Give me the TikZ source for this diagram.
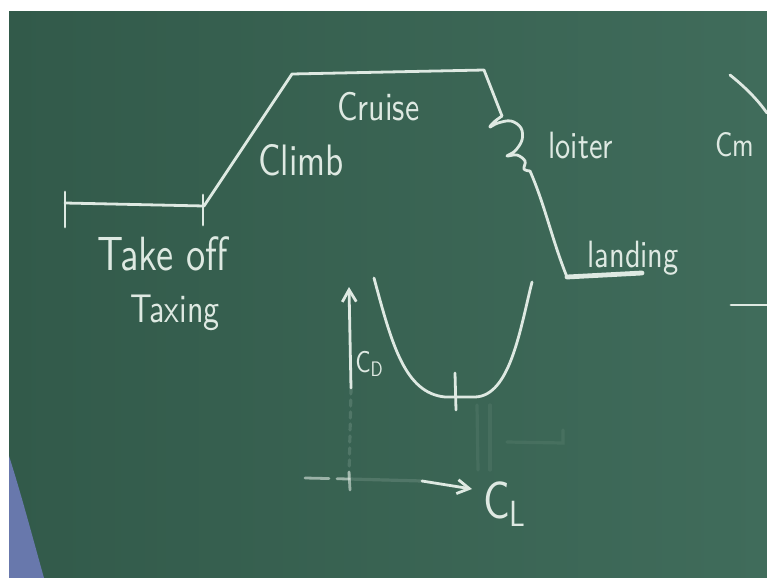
\documentclass[tikz,border=0pt]{standalone}
\usepackage{fontspec}
\newfontfamily\chalkfont{lmsans10-regular.otf}[FakeStretch=0.8]
\usetikzlibrary{arrows.meta}
\definecolor{board}{RGB}{64,108,91}
\definecolor{boardleft}{RGB}{50,90,74}
\definecolor{chalk}{RGB}{222,233,226}
\definecolor{sleeve}{RGB}{104,120,172}
\begin{document}
\begin{tikzpicture}[x=0.5pt,y=-0.5pt,
  chalkline/.style={draw=chalk,line width=1.4pt,line cap=round,line join=round},
  chalkfaint/.style={draw=chalk,line width=1.6pt,line cap=round,opacity=0.07},
  chalkarrow/.style={chalkline,-{Straight Barb[length=6pt,width=7pt]}},
  chalktext/.style={text=chalk,anchor=base west,inner sep=0pt},
  label size/.style={font=\chalkfont\fontsize{#1}{#1}\selectfont}]
\useasboundingbox (0,0) rectangle (767,578);
\fill[white] (0,0) rectangle (767,578);
\shade[left color=boardleft,right color=board] (9,11) rectangle (767,578);
\fill[sleeve] (9,456) .. controls (20,490) and (32,535) .. (44,578) -- (9,578) -- cycle;
% flight profile
\coordinate (taxiL) at (65,203);
\coordinate (taxiR) at (204,206);
\coordinate (climbTop) at (292,74);
\coordinate (cruiseR) at (484,70);
\coordinate (loiterIn) at (502,116);
\coordinate (loiterOut) at (530,171);
\coordinate (landL) at (567,277);
\coordinate (landR) at (642,273);
\draw[chalkline] (taxiL) -- (taxiR) -- (climbTop) -- (cruiseR) -- (loiterIn);
\draw[chalkline] (65,192) -- (65,227);
\draw[chalkline] (203,195) -- (203,225);
\draw[chalkline] plot[smooth,tension=0.6] coordinates {(loiterIn) (494,122) (490,127) (498,123) (511,121) (521,128) (522,140) (515,151) (507,156) (517,155) (525,161) (524,169) (530,171)};
\draw[chalkline] (loiterOut) .. controls (545,205) and (552,240) .. (landL);
\draw[chalkline,line width=2.4pt] (landL) -- (landR);
\node[chalktext,label size=24] (takeoff) at (97,270) {Take off};
\node[chalktext,label size=20] (taxing) at (130,322) {Taxing};
\node[chalktext,label size=22] (climb) at (258,175) {Climb};
\node[chalktext,label size=20] (cruise) at (337,120) {Cruise};
\node[chalktext,label size=19] (loiter) at (548,158) {loiter};
\node[chalktext,label size=19] (landing) at (587,267) {landing};
\node[chalktext,label size=17] (cm) at (715,156) {Cm};
\coordinate (arcTop) at (730,75);
\coordinate (arcEnd) at (767,113);
\draw[chalkline] (arcTop) .. controls (745,87) and (757,99) .. (arcEnd);
\draw[chalkline] (731,305) -- (767,305);
% drag polar
\coordinate (cdBot) at (351,388);
\coordinate (cdTop) at (349,287);
\draw[chalkarrow] (cdBot) -- (cdTop);
\node[chalktext,label size=15] (cd) at (355,372) {C\textsubscript{D}};
\draw[chalkline] (374,278) .. controls (392,345) and (405,393) .. (445,397) -- (475,397) .. controls (510,396) and (520,330) .. (532,282);
\draw[chalkline] (455,373) -- (456,410);
\coordinate (orig) at (349,479);
\draw[chalkfaint,opacity=0.15,dashed] (cdBot) -- (orig);
\draw[chalkline,opacity=0.6] (349,472) -- (350,490);
\draw[chalkline,opacity=0.6,dash pattern=on 12pt off 4pt] (305,478) -- (orig);
\coordinate (clTail) at (422,481);
\coordinate (clHead) at (472,489);
\draw[chalkfaint,opacity=0.15] (orig) -- (clTail);
\draw[chalkarrow] (clTail) -- (clHead);
\node[chalktext,label size=26] (cl) at (483,518) {C\textsubscript{L}};
% erased traces
\draw[chalkfaint] (477,405) -- (478,470);
\draw[chalkfaint] (490,405) -- (490,470);
\draw[chalkfaint] (507,442) -- (563,443) -- (563,430);
\end{tikzpicture}
\end{document}
